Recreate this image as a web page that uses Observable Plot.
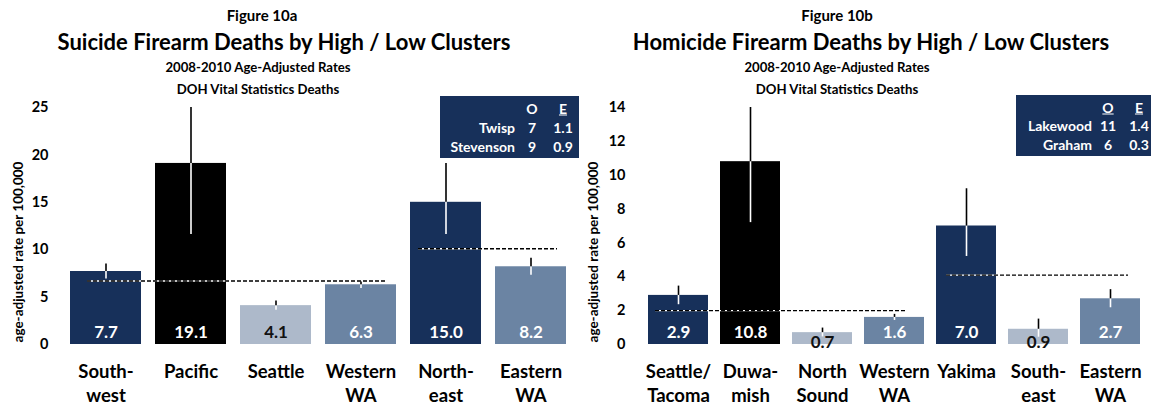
<!DOCTYPE html>
<html><head><meta charset="utf-8">
<script src="https://cdn.jsdelivr.net/npm/d3@7"></script>
<script src="https://cdn.jsdelivr.net/npm/@observablehq/plot@0.6"></script>
<style>
body{margin:0;background:#fff;font-family:Lato,"Open Sans",sans-serif;}
#root{position:relative;width:1151px;height:407px;overflow:hidden;background:#fff;}
.panel{position:absolute;top:0;width:575px;height:407px;}
.panel svg{position:absolute;left:0;top:0;}
.tl{position:absolute;left:0;text-align:center;font-weight:bold;color:#000;white-space:nowrap;transform:translateY(-50%);}
.ylab{position:absolute;font-weight:bold;font-size:13.5px;white-space:nowrap;transform:translate(-50%,-50%) rotate(-90deg);color:#000;}
.box{position:absolute;background:#17305a;color:#fff;font-weight:bold;font-size:14px;}
.box div{position:absolute;white-space:nowrap;transform:translateY(-50%);}
</style>
</head><body><div id="root"></div>
<script>
// ---- Figure 10a data ----
const suicideCategories = ["South-\nwest", "Pacific", "Seattle", "Western\nWA", "North-\neast", "Eastern\nWA"];
const suicideRates = [7.7, 19.1, 4.1, 6.3, 15.0, 8.2];
const suicideLower = [6.9, 11.6, 3.6, 5.9, 11.6, 7.3];
const suicideUpper = [8.5, 25.0, 4.6, 6.6, 19.1, 9.1];
const suicideGroups = ["high", "highest", "low", "state", "high", "state"];
const suicideRefFrom = ["South-\nwest", "North-\neast"];
const suicideRefTo = ["Western\nWA", "Eastern\nWA"];
const suicideRefValue = [6.7, 10.1];
const suicideYTicks = [0, 5, 10, 15, 20, 25];
const suicideClusterNames = ["Twisp", "Stevenson"];
const suicideObserved = [7, 9];
const suicideExpected = [1.1, 0.9];

// ---- Figure 10b data ----
const homicideCategories = ["Seattle/\nTacoma", "Duwa-\nmish", "North\nSound", "Western\nWA", "Yakima", "South-\neast", "Eastern\nWA"];
const homicideRates = [2.9, 10.8, 0.7, 1.6, 7.0, 0.9, 2.7];
const homicideLower = [2.35, 7.2, 0.45, 1.42, 5.2, 0.43, 2.17];
const homicideUpper = [3.45, 14.0, 0.97, 1.78, 9.2, 1.5, 3.24];
const homicideGroups = ["high", "highest", "low", "state", "high", "low", "state"];
const homicideRefFrom = ["Seattle/\nTacoma", "Yakima"];
const homicideRefTo = ["Western\nWA", "Eastern\nWA"];
const homicideRefValue = [2.0, 4.1];
const homicideYTicks = [0, 2, 4, 6, 8, 10, 12, 14];
const homicideClusterNames = ["Lakewood", "Graham"];
const homicideObserved = [11, 6];
const homicideExpected = [1.4, 0.3];

// ---- styles ----
const FONT = "Lato, 'Open Sans', sans-serif";
const NAVY = "#17305a", LIGHT = "#adb9ca", MED = "#6b84a3", DARK = "#111111";

function makeChart(cfg) {
  const data = cfg.cats.map((c, i) => ({cat: c, rate: cfg.rates[i], lo: cfg.lower[i], hi: cfg.upper[i], group: cfg.groups[i]}));
  const refs = cfg.refFrom.map((f, i) => ({from: f, to: cfg.refTo[i], value: cfg.refValue[i]}));
  const refMarks = [];
  refs.forEach((r, i) => {
    const ins = cfg.refInsets[i];
    refMarks.push(Plot.ruleY([r], {y: "value", x1: "from", x2: "to", stroke: "#fff", strokeWidth: 1.3, insetLeft: ins[0], insetRight: ins[1]}));
    refMarks.push(Plot.ruleY([r], {y: "value", x1: "from", x2: "to", stroke: "#000", strokeWidth: 1.3, strokeDasharray: "4,2", insetLeft: ins[0], insetRight: ins[1]}));
  });
  return Plot.plot({
    width: 575, height: 407,
    marginTop: 107, marginBottom: 63, marginLeft: 63, marginRight: 2,
    style: {fontFamily: FONT, background: "transparent", overflow: "visible"},
    x: {domain: cfg.cats, paddingInner: 0.165, paddingOuter: 0.0825, align: 0.5},
    y: {domain: [0, cfg.yMax]},
    color: {domain: ["high", "highest", "low", "state"], range: [NAVY, "#000000", LIGHT, MED]},
    marks: [
      Plot.barY(data, {x: "cat", y: "rate", fill: "group"}),
      ...refMarks,
      Plot.ruleX(data, {x: "cat", y1: "lo", y2: "rate", stroke: "#fff", strokeWidth: 1.6}),
      Plot.ruleX(data, {x: "cat", y1: "rate", y2: "hi", stroke: "#000", strokeWidth: 1.6}),
      Plot.text(data.filter(d => d.rate >= 1.2), {x: "cat", y: 0, text: d => d.rate.toFixed(1), dy: -12,
        fill: d => d.group === "low" ? DARK : "#ffffff", fontSize: 17, fontWeight: "bold"}),
      Plot.text(data.filter(d => d.rate < 1.2), {x: "cat", y: 0, text: d => d.rate.toFixed(1), dy: -2,
        fill: DARK, fontSize: 17, fontWeight: "bold"}),
      Plot.axisY({ticks: cfg.yTicks, tickSize: 0, tickPadding: cfg.tickPad, fontSize: 14.5, fontWeight: "bold", label: null}),
      Plot.axisX({tickSize: 0, tickPadding: 17, fontSize: 18.5, fontWeight: "bold", lineHeight: 1.28, lineAnchor: "top", label: null})
    ]
  });
}

function addTitles(panel, lines) {
  lines.forEach(([txt, size, cx, cy]) => {
    const d = document.createElement("div");
    d.className = "tl";
    d.style.width = (2 * cx) + "px";
    d.style.top = cy + "px";
    d.style.fontSize = size + "px";
    d.style.lineHeight = (size * 1.2) + "px";
    d.textContent = txt;
    panel.appendChild(d);
  });
}

function addYLabel(panel, x, y) {
  const d = document.createElement("div");
  d.className = "ylab";
  d.style.left = x + "px"; d.style.top = y + "px";
  d.style.fontFamily = FONT;
  d.textContent = "age-adjusted rate per 100,000";
  panel.appendChild(d);
}

function addBox(panel, b, names, obs, exp, underlineO) {
  const box = document.createElement("div");
  box.className = "box";
  Object.assign(box.style, {left: b.left + "px", top: b.top + "px", width: b.w + "px", height: b.h + "px", fontFamily: FONT});
  const cell = (txt, x, y, align, ul) => {
    const d = document.createElement("div");
    d.textContent = txt;
    d.style.top = y + "px";
    if (align === "right") { d.style.right = (b.w - x) + "px"; }
    else { d.style.left = x + "px"; d.style.transform = "translate(-50%,-50%)"; }
    if (ul) d.style.textDecoration = "underline";
    box.appendChild(d);
  };
  cell("O", b.oX, b.rows[0], "center", underlineO);
  cell("E", b.eX, b.rows[0], "center", true);
  names.forEach((n, i) => {
    cell(n, b.nameX, b.rows[i + 1], "right", false);
    cell(String(obs[i]), b.oX, b.rows[i + 1], "center", false);
    cell(exp[i].toFixed(1), b.eX, b.rows[i + 1], "center", false);
  });
  panel.appendChild(box);
}

const root = document.getElementById("root");

// Left panel
const left = document.createElement("div");
left.className = "panel"; left.style.left = "0px";
root.appendChild(left);
left.appendChild(makeChart({cats: suicideCategories, rates: suicideRates, lower: suicideLower, upper: suicideUpper,
  groups: suicideGroups, refFrom: suicideRefFrom, refTo: suicideRefTo, refValue: suicideRefValue,
  yMax: 25, yTicks: suicideYTicks, tickPad: 15, refInsets: [[17, 10], [8, 9]]}));
addTitles(left, [["Figure 10a", 15, 262, 15], ["Suicide Firearm Deaths by High / Low Clusters", 22, 284, 42],
  ["2008-2010 Age-Adjusted Rates", 13.2, 258, 68], ["DOH Vital Statistics Deaths", 13.2, 258, 90]]);
addYLabel(left, 18, 252);
addBox(left, {left: 440, top: 96, w: 139, h: 62, nameX: 75, oX: 92, eX: 123, rows: [12, 31, 50]},
  suicideClusterNames, suicideObserved, suicideExpected, false);

// Right panel
const right = document.createElement("div");
right.className = "panel"; right.style.left = "576px";
root.appendChild(right);
right.appendChild(makeChart({cats: homicideCategories, rates: homicideRates, lower: homicideLower, upper: homicideUpper,
  groups: homicideGroups, refFrom: homicideRefFrom, refTo: homicideRefTo, refValue: homicideRefValue,
  yMax: 14, yTicks: homicideYTicks, tickPad: 14, refInsets: [[7, 18], [10, 12]]}));
addTitles(right, [["Figure 10b", 15, 261, 15], ["Homicide Firearm Deaths by High / Low Clusters", 22, 295, 42],
  ["2008-2010 Age-Adjusted Rates", 13.2, 261, 68], ["DOH Vital Statistics Deaths", 13.2, 261, 90]]);
addYLabel(right, 17, 252);
addBox(right, {left: 440, top: 95, w: 135, h: 61, nameX: 76, oX: 92, eX: 123, rows: [12, 30, 49]},
  homicideClusterNames, homicideObserved, homicideExpected, true);
</script></body></html>
